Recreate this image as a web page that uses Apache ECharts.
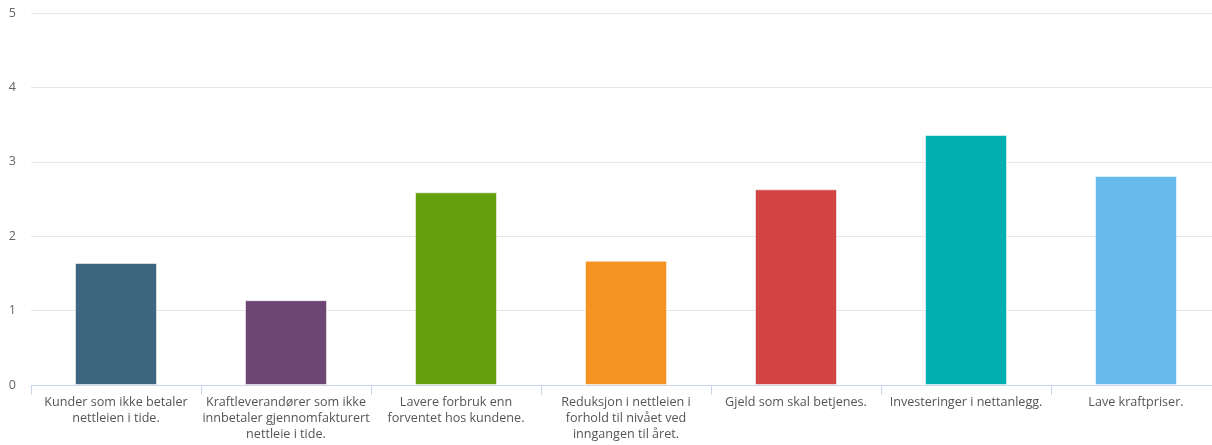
<!DOCTYPE html>
<html>
<head>
<meta charset="utf-8">
<script src="https://cdn.jsdelivr.net/npm/echarts@6/dist/echarts.min.js"></script>
<style>html,body{margin:0;padding:0;background:#fff;overflow:hidden}#c{width:1221px;height:445px}</style>
</head>
<body>
<div id="c"></div>
<script>
const categories = [
  "Kunder som ikke betaler\nnettleien i tide.",
  "Kraftleverandører som ikke\ninnbetaler gjennomfakturert\nnettleie i tide.",
  "Lavere forbruk enn\nforventet hos kundene.",
  "Reduksjon i nettleien i\nforhold til nivået ved\ninngangen til året.",
  "Gjeld som skal betjenes.",
  "Investeringer i nettanlegg.",
  "Lave kraftpriser."
];
const values = [1.64, 1.14, 2.59, 1.67, 2.63, 3.36, 2.81];
const colors = ["#3f6680", "#6d4673", "#659e0c", "#f59322", "#d24343", "#00afaf", "#66bbea"];
const yTicks = [0, 1, 2, 3, 4, 5];

const chart = echarts.init(document.getElementById('c'));
chart.setOption({
  animation: false,
  textStyle: { fontFamily: 'Open Sans' },
  grid: { left: 31, top: 13, right: 0, height: 372, containLabel: false },
  xAxis: {
    type: 'category',
    data: categories,
    axisLine: { lineStyle: { color: '#ccd6eb', width: 1 } },
    axisTick: { show: true, length: 10, lineStyle: { color: '#ccd6eb' } },
    axisLabel: { color: '#555', fontSize: 12.6, lineHeight: 16, margin: 9, interval: 0, fontFamily: 'Open Sans' }
  },
  yAxis: {
    type: 'value',
    min: yTicks[0], max: yTicks[yTicks.length - 1], interval: 1,
    axisLine: { show: false },
    axisTick: { show: false },
    splitLine: { lineStyle: { color: '#e6e6e6' } },
    axisLabel: { color: '#666', fontSize: 12.6, margin: 15, fontFamily: 'Open Sans' }
  },
  series: [{
    type: 'bar',
    data: values.map((v, i) => ({ value: v, itemStyle: { color: colors[i] } })),
    barWidth: 82,
    itemStyle: { borderColor: 'rgba(255,255,255,0.55)', borderWidth: 1 }
  }]
});
</script>
</body>
</html>
